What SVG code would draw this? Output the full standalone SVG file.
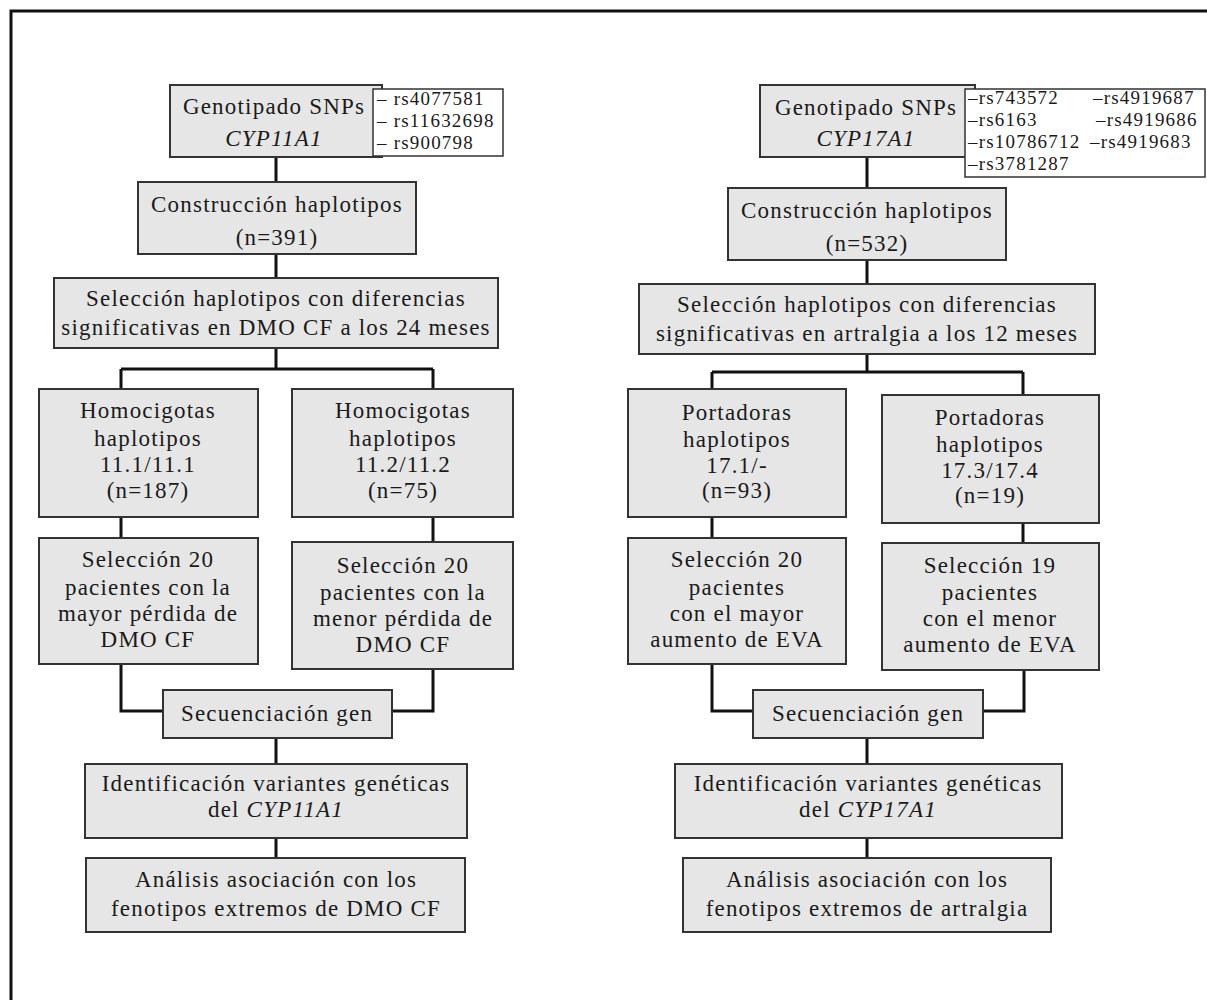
<svg xmlns="http://www.w3.org/2000/svg" width="1207" height="1000" viewBox="0 0 1207 1000">
<style>
.box{fill:#e6e6e6;stroke:#333;stroke-width:2}
.snp{fill:#fff;stroke:#333;stroke-width:1.5}
.t{font-family:"Liberation Serif",serif;font-size:23px;letter-spacing:1.2px;fill:#1a1a1a;text-anchor:middle}
.s{font-family:"Liberation Serif",serif;font-size:19px;letter-spacing:1.2px;fill:#1a1a1a}
.i{font-style:italic}
.c{fill:none;stroke:#111;stroke-width:3}
</style>
<rect x="11" y="11" width="1220" height="1020" fill="#fff" stroke="#111" stroke-width="3"/>
<g id="connectors">
<path class="c" d="M276 157V182M276 254V278M276 348V369M121 369H433M121 369V389M433 369V389M121 517V538M433 517V542M121 664V711H163M433 669V711H392M276 738V764M276 838V858"/>
<path class="c" d="M867 157V188M867 260V284M867 354V372M712 372H1023M712 372V389M1023 372V395M712 517V538M1023 523V543M712 664V711H753M1024 670V711H983M867 738V764M867 838V858"/>
</g>
<g id="L_genotipado"><rect class="box" x="170" y="85" width="212" height="72"/><text class="t" x="274" y="114">Genotipado SNPs</text><text class="t i" x="274" y="146">CYP11A1</text></g>
<g id="L_snps"><rect class="snp" x="373" y="89" width="130" height="67"/><text class="s" x="377" y="105">– rs4077581</text><text class="s" x="377" y="127">– rs11632698</text><text class="s" x="377" y="149">– rs900798</text></g>
<g id="L_construccion"><rect class="box" x="138" y="182" width="278" height="72"/><text class="t" x="277" y="212">Construcción haplotipos</text><text class="t" x="277" y="245">(n=391)</text></g>
<g id="L_seleccion"><rect class="box" x="54" y="278" width="444" height="70"/><text class="t" x="276" y="306">Selección haplotipos con diferencias</text><text class="t" x="276" y="335">significativas en DMO CF a los 24 meses</text></g>
<g id="L_homo1"><rect class="box" x="39" y="389" width="219" height="128"/><text class="t" x="148" y="418">Homocigotas</text><text class="t" x="148" y="446">haplotipos</text><text class="t" x="148" y="472">11.1/11.1</text><text class="t" x="148" y="498">(n=187)</text></g>
<g id="L_homo2"><rect class="box" x="292" y="389" width="221" height="128"/><text class="t" x="403" y="418">Homocigotas</text><text class="t" x="403" y="446">haplotipos</text><text class="t" x="403" y="472">11.2/11.2</text><text class="t" x="403" y="498">(n=75)</text></g>
<g id="L_sel1"><rect class="box" x="39" y="538" width="219" height="126"/><text class="t" x="148" y="567">Selección 20</text><text class="t" x="148" y="595">pacientes con la</text><text class="t" x="148" y="621">mayor pérdida de</text><text class="t" x="148" y="647">DMO CF</text></g>
<g id="L_sel2"><rect class="box" x="292" y="542" width="221" height="127"/><text class="t" x="403" y="573">Selección 20</text><text class="t" x="403" y="600">pacientes con la</text><text class="t" x="403" y="626">menor pérdida de</text><text class="t" x="403" y="652">DMO CF</text></g>
<g id="L_secuenciacion"><rect class="box" x="163" y="690" width="229" height="48"/><text class="t" x="277" y="721">Secuenciación gen</text></g>
<g id="L_identificacion"><rect class="box" x="85" y="764" width="382" height="74"/><text class="t" x="276" y="791">Identificación variantes genéticas</text><text class="t" x="276" y="817">del <tspan class="i">CYP11A1</tspan></text></g>
<g id="L_analisis"><rect class="box" x="86" y="858" width="379" height="74"/><text class="t" x="276" y="887">Análisis asociación con los</text><text class="t" x="276" y="916">fenotipos extremos de DMO CF</text></g>

<g id="R_genotipado"><rect class="box" x="760" y="85" width="215" height="72"/><text class="t" x="866" y="115">Genotipado SNPs</text><text class="t i" x="866" y="146">CYP17A1</text></g>
<g id="R_snps"><rect class="snp" x="965" y="89" width="240" height="88"/><text class="s" x="968" y="104">–rs743572</text><text class="s" x="968" y="126">–rs6163</text><text class="s" x="968" y="148">–rs10786712</text><text class="s" x="968" y="170">–rs3781287</text><text class="s" x="1093" y="104">–rs4919687</text><text class="s" x="1096" y="126">–rs4919686</text><text class="s" x="1090" y="148">–rs4919683</text></g>
<g id="R_construccion"><rect class="box" x="728" y="188" width="278" height="72"/><text class="t" x="867" y="218">Construcción haplotipos</text><text class="t" x="867" y="251">(n=532)</text></g>
<g id="R_seleccion"><rect class="box" x="639" y="284" width="456" height="70"/><text class="t" x="867" y="312">Selección haplotipos con diferencias</text><text class="t" x="867" y="341">significativas en artralgia a los 12 meses</text></g>
<g id="R_port1"><rect class="box" x="628" y="389" width="218" height="128"/><text class="t" x="737" y="420">Portadoras</text><text class="t" x="737" y="447">haplotipos</text><text class="t" x="737" y="473">17.1/-</text><text class="t" x="737" y="498">(n=93)</text></g>
<g id="R_port2"><rect class="box" x="882" y="395" width="217" height="128"/><text class="t" x="990" y="425">Portadoras</text><text class="t" x="990" y="452">haplotipos</text><text class="t" x="990" y="478">17.3/17.4</text><text class="t" x="990" y="503">(n=19)</text></g>
<g id="R_sel1"><rect class="box" x="628" y="538" width="218" height="126"/><text class="t" x="737" y="567">Selección 20</text><text class="t" x="737" y="595">pacientes</text><text class="t" x="737" y="621">con el mayor</text><text class="t" x="737" y="647">aumento de EVA</text></g>
<g id="R_sel2"><rect class="box" x="882" y="543" width="217" height="127"/><text class="t" x="990" y="573">Selección 19</text><text class="t" x="990" y="600">pacientes</text><text class="t" x="990" y="626">con el menor</text><text class="t" x="990" y="652">aumento de EVA</text></g>
<g id="R_secuenciacion"><rect class="box" x="753" y="690" width="230" height="48"/><text class="t" x="868" y="721">Secuenciación gen</text></g>
<g id="R_identificacion"><rect class="box" x="675" y="764" width="387" height="74"/><text class="t" x="868" y="791">Identificación variantes genéticas</text><text class="t" x="868" y="817">del <tspan class="i">CYP17A1</tspan></text></g>
<g id="R_analisis"><rect class="box" x="683" y="858" width="368" height="74"/><text class="t" x="867" y="887">Análisis asociación con los</text><text class="t" x="867" y="916">fenotipos extremos de artralgia</text></g>
</svg>
